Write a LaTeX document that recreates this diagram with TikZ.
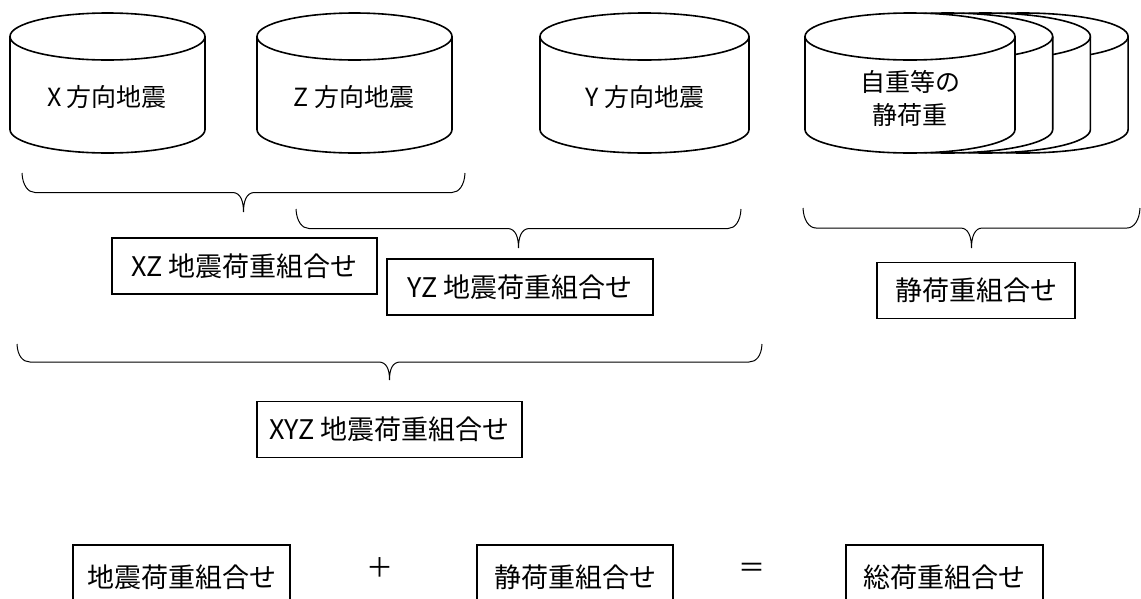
\documentclass[tikz,border=0pt]{standalone}
\usepackage{fontspec}
\setmainfont{Noto Sans CJK JP}
\usetikzlibrary{calc}

\tikzset{
  drumline/.style={line width=1.6pt, fill=white},
  drumtext/.style={font=\fontsize{25}{33}\selectfont, align=center},
  loadbox/.style={draw, line width=1.1pt, minimum height=56pt, inner sep=0pt, font=\fontsize{27}{30}\selectfont},
  signtext/.style={font=\fontsize{27}{30}\selectfont},
  curly/.style={line width=1pt},
}

% one load case drawn as a drum, #1 = left x, #2 = right x
\newcommand{\drum}[2]{%
  \draw[drumline] (#1,-36.5) -- (#1,-129.5)
    arc[start angle=180, end angle=360, x radius={((#2)-(#1))/2}, y radius=23.5]
    -- (#2,-36.5)
    arc[start angle=0, end angle=180, x radius={((#2)-(#1))/2}, y radius=23.5] -- cycle;
  \draw[drumline, fill=none] (#1,-36.5)
    arc[start angle=180, end angle=360, x radius={((#2)-(#1))/2}, y radius=23.5];
}

% curly brace opening downwards, #1 = left end, #2 = right end, #3 = depth
\newcommand{\curly}[3]{%
  \path ($(#1)!0.5!(#2)$) coordinate (#1-mid);
  \draw[curly] (#1) .. controls +(0.5,-12) and +(-7,0) .. ([shift={(13,-#3/2)}]#1)
    -- ([shift={(-11,-#3/2)}]#1-mid) .. controls +(8,0) and +(0,11) .. ([yshift=-#3]#1-mid)
    .. controls +(0,11) and +(-8,0) .. ([shift={(11,-#3/2)}]#1-mid)
    -- ([shift={(-13,-#3/2)}]#2) .. controls +(7,0) and +(-0.5,-12) .. (#2);
}

\begin{document}
\begin{tikzpicture}[x=1pt, y=1pt]
    \useasboundingbox (0,0) rectangle (1141,-598);

    % seismic load cases
    \drum{10}{205}
    \node[drumtext] (xq) at (107,-97) {X 方向地震};
    \drum{257}{452}
    \node[drumtext] (zq) at (354,-97) {Z 方向地震};
    \drum{540}{749}
    \node[drumtext] (yq) at (645,-97) {Y 方向地震};

    % static load cases, stacked
    \foreach \k in {3,2,1,0} {\drum{805+37.7*\k}{1015+37.7*\k}}
    \node[drumtext] (dq) at (910,-98.5) {自重等の\\静荷重};

    % braces
    \coordinate (b1l) at (22,-173);   \coordinate (b1r) at (465,-173);
    \coordinate (b2l) at (296,-209);  \coordinate (b2r) at (741,-209);
    \coordinate (b3l) at (803,-208);  \coordinate (b3r) at (1140,-208);
    \coordinate (b4l) at (17,-344);   \coordinate (b4r) at (762,-344);
    \curly{b1l}{b1r}{39}
    \curly{b2l}{b2r}{39}
    \curly{b3l}{b3r}{40}
    \curly{b4l}{b4r}{36}

    % combinations
    \node[loadbox, minimum width=265pt] (xz) at (244.5,-266) {XZ 地震荷重組合せ};
    \node[loadbox, minimum width=266pt] (yz) at (520,-287) {YZ 地震荷重組合せ};
    \node[loadbox, minimum width=198pt] (st) at (976,-290.5) {静荷重組合せ};
    \node[loadbox, minimum width=265pt] (xyz) at (389.5,-429.5) {XYZ 地震荷重組合せ};

    % total
    \node[loadbox, minimum width=217pt, minimum height=64pt] (eq) at (181.5,-577) {地震荷重組合せ};
    \node[signtext] (plus) at (380,-568) {＋};
    \node[loadbox, minimum width=196pt, minimum height=64pt] (sq) at (575,-577) {静荷重組合せ};
    \node[signtext] (equal) at (752,-570) {＝};
    \node[loadbox, minimum width=197pt, minimum height=64pt] (tq) at (944.5,-577) {総荷重組合せ};
\end{tikzpicture}
\end{document}
